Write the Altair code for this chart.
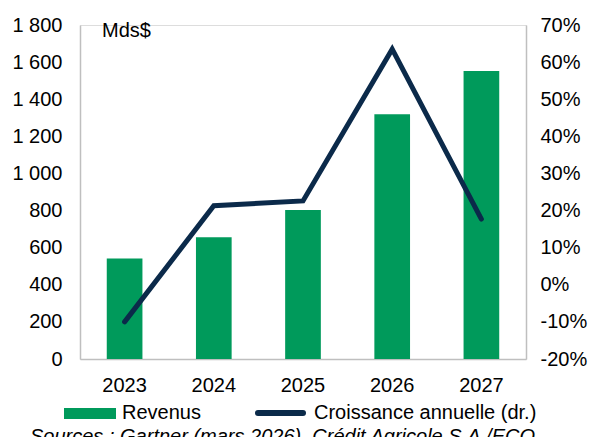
import altair as alt
import pandas as pd

years = ["2023", "2024", "2025", "2026", "2027"]
revenus = [542, 656, 803, 1319, 1552]
croissance = [-0.10, 0.213, 0.226, 0.635, 0.177]

left_ticks = [0, 200, 400, 600, 800, 1000, 1200, 1400, 1600, 1800]
right_ticks = [-0.2, -0.1, 0.0, 0.1, 0.2, 0.3, 0.4, 0.5, 0.6, 0.7]

GREEN = "#009A5B"
NAVY = "#0B2A4A"
FONT = "Liberation Sans"
AXIS_GRAY = "#BFBFBF"

df = pd.DataFrame({"year": years, "rev": revenus, "g": croissance})

x = alt.X("year:N", title=None,
          scale=alt.Scale(paddingInner=0.6, paddingOuter=0.3),
          axis=alt.Axis(labelAngle=0, labelFontSize=20, labelFont=FONT, labelColor="#000",
                        labelPadding=16, ticks=False, domainColor=AXIS_GRAY, domainWidth=1.5))

bars = alt.Chart(df).mark_bar(color=GREEN).encode(
    x=x,
    y=alt.Y("rev:Q", title=None,
            scale=alt.Scale(domain=[0, 1800], nice=False, zero=True),
            axis=alt.Axis(values=left_ticks, grid=False, ticks=False, labelFontSize=20,
                          labelFont=FONT, labelColor="#000", labelPadding=18,
                          domainColor=AXIS_GRAY, domainWidth=1.5,
                          labelExpr="replace(format(datum.value, ','), ',', ' ')")),
)

line = alt.Chart(df).mark_line(color=NAVY, strokeWidth=5, strokeCap="round", strokeJoin="miter").encode(
    x=x,
    y=alt.Y("g:Q", title=None,
            scale=alt.Scale(domain=[-0.2, 0.7], nice=False, zero=False),
            axis=alt.Axis(orient="right", values=right_ticks, grid=False, ticks=False,
                          labelFontSize=20, labelFont=FONT, labelColor="#000", labelPadding=14,
                          domainColor=AXIS_GRAY, domainWidth=1.5,
                          labelExpr="datum.value < -0.0001 ? '-' + format(-datum.value, '.0%') : format(datum.value, '.0%')")),
)

unit = alt.Chart(pd.DataFrame({"t": ["Mds$"]})).mark_text(
    align="left", baseline="middle", fontSize=20, font=FONT, color="#000"
).encode(x=alt.value(22), y=alt.value(6), text="t:N")

leg_rect = alt.Chart(pd.DataFrame({"k": [1]})).mark_rect(color=GREEN).encode(
    x=alt.value(-16), x2=alt.value(36), y=alt.value(383), y2=alt.value(394))
leg_rev = alt.Chart(pd.DataFrame({"t": ["Revenus"]})).mark_text(
    align="left", baseline="middle", fontSize=20, font=FONT, color="#000"
).encode(x=alt.value(42), y=alt.value(388), text="t:N")
leg_line = alt.Chart(pd.DataFrame({"k": [1]})).mark_rule(color=NAVY, strokeWidth=6, strokeCap="round").encode(
    x=alt.value(178), x2=alt.value(223), y=alt.value(388))
leg_g = alt.Chart(pd.DataFrame({"t": ["Croissance annuelle (dr.)"]})).mark_text(
    align="left", baseline="middle", fontSize=20, font=FONT, color="#000"
).encode(x=alt.value(234), y=alt.value(388), text="t:N")
source = alt.Chart(pd.DataFrame({"t": ["Sources : Gartner (mars 2026), Crédit Agricole S.A./ECO"]})).mark_text(
    align="left", baseline="alphabetic", fontSize=20, font=FONT, fontStyle="italic", color="#000"
).encode(x=alt.value(-50), y=alt.value(418), text="t:N")

chart = alt.layer(bars, line, unit, leg_rect, leg_rev, leg_line, leg_g, source).resolve_scale(
    y="independent"
).properties(
    width=446, height=334,
    autosize=alt.AutoSizeParams(type="none"),
    padding={"left": 72, "top": 17, "right": 62, "bottom": 78},
).configure_view(stroke=None).configure(background="white")

chart.save("out.html", embed_options={"renderer": "svg", "actions": False})
